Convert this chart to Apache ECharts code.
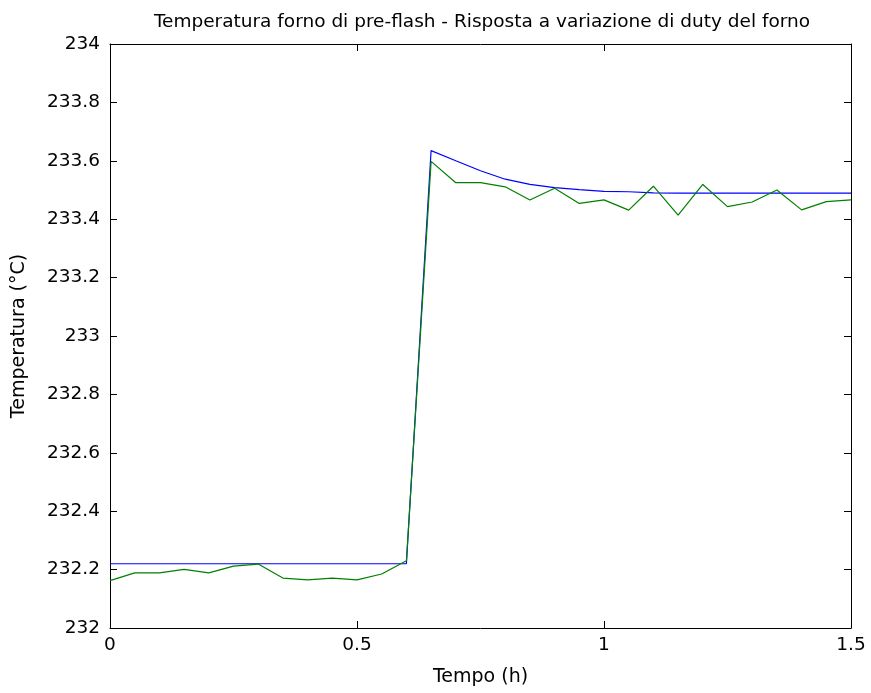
<!DOCTYPE html>
<html>
<head>
<meta charset="utf-8">
<script src="https://cdn.jsdelivr.net/npm/echarts@6/dist/echarts.min.js"></script>
<style>
html, body { margin: 0; padding: 0; background: #fff; }
#chart { width: 871px; height: 693px; }
</style>
</head>
<body>
<div id="chart"></div>
<script>
// tempo (h), un campione ogni 0.05 h
var tempo = [0, 0.05, 0.1, 0.15, 0.2, 0.25, 0.3, 0.35, 0.4, 0.45, 0.5, 0.55, 0.6,
    0.65, 0.7, 0.75, 0.8, 0.85, 0.9, 0.95, 1.0, 1.05, 1.1, 1.15, 1.2, 1.25, 1.3,
    1.35, 1.4, 1.45, 1.5];
// modello (blu)
var modello = [232.22, 232.22, 232.22, 232.22, 232.22, 232.22, 232.22, 232.22, 232.22,
    232.22, 232.22, 232.22, 232.22,
    233.635, 233.600, 233.566, 233.537, 233.519, 233.508, 233.501, 233.495, 233.494,
    233.490, 233.489, 233.489, 233.489, 233.489, 233.489, 233.489, 233.489, 233.489];
// misura (verde)
var misura = [232.162, 232.189, 232.189, 232.201, 232.189, 232.212, 232.219, 232.171,
    232.165, 232.171, 232.165, 232.185, 232.230,
    233.598, 233.525, 233.525, 233.511, 233.466, 233.506, 233.454, 233.466, 233.431,
    233.513, 233.414, 233.519, 233.443, 233.459, 233.500, 233.432, 233.460, 233.466];
var yTicks = ['232', '232.2', '232.4', '232.6', '232.8', '233', '233.2', '233.4', '233.6', '233.8', '234'];

var font = 'DejaVu Sans, Liberation Sans, sans-serif';

function pairs(ys) {
    return tempo.map(function (t, i) { return [t, ys[i]]; });
}

var myChart = echarts.init(document.getElementById('chart'));
var xBase = {
    type: 'value',
    min: 0,
    max: 1.5,
    interval: 0.5,
    axisLine: { onZero: false, lineStyle: { color: '#000', width: 1 } },
    axisTick: { inside: true, length: 7, lineStyle: { color: '#000' } },
    splitLine: { show: false }
};
var yBase = {
    type: 'value',
    min: 232,
    max: 234,
    interval: 0.2,
    axisLine: { onZero: false, lineStyle: { color: '#000', width: 1 } },
    axisTick: { inside: true, length: 7, lineStyle: { color: '#000' } },
    splitLine: { show: false }
};
var option = {
    animation: false,
    backgroundColor: '#fff',
    title: {
        text: 'Temperatura forno di pre-flash - Risposta a variazione di duty del forno',
        left: 477,
        textAlign: 'center',
        top: 8,
        textStyle: { fontFamily: font, fontSize: 18.5, fontWeight: 'normal', color: '#000' }
    },
    grid: { left: 110, right: 20, top: 44, bottom: 65, outerBoundsMode: 'none', containLabel: false },
    xAxis: [
        Object.assign({}, xBase, {
            position: 'bottom',
            name: 'Tempo (h)',
            nameLocation: 'middle',
            nameGap: 40,
            nameTextStyle: { fontFamily: font, fontSize: 19, color: '#000' },
            axisLabel: { fontFamily: font, fontSize: 18.5, color: '#000', margin: 8 }
        }),
        Object.assign({}, xBase, { position: 'top', axisLabel: { show: false } })
    ],
    yAxis: [
        Object.assign({}, yBase, {
            position: 'left',
            name: 'Temperatura (°C)',
            nameLocation: 'middle',
            nameGap: 81,
            nameTextStyle: { fontFamily: font, fontSize: 19, color: '#000' },
            axisLabel: {
                fontFamily: font, fontSize: 18.5, color: '#000', margin: 10,
                formatter: function (v) { return yTicks[Math.round((v - 232) / 0.2)]; }
            }
        }),
        Object.assign({}, yBase, { position: 'right', axisLabel: { show: false } })
    ],
    series: [{
        type: 'line',
        data: pairs(modello),
        symbol: 'none',
        lineStyle: { color: '#0000ff', width: 1.2 }
    }, {
        type: 'line',
        data: pairs(misura),
        symbol: 'none',
        lineStyle: { color: '#008000', width: 1.2 }
    }]
};
myChart.setOption(option);
</script>
</body>
</html>
